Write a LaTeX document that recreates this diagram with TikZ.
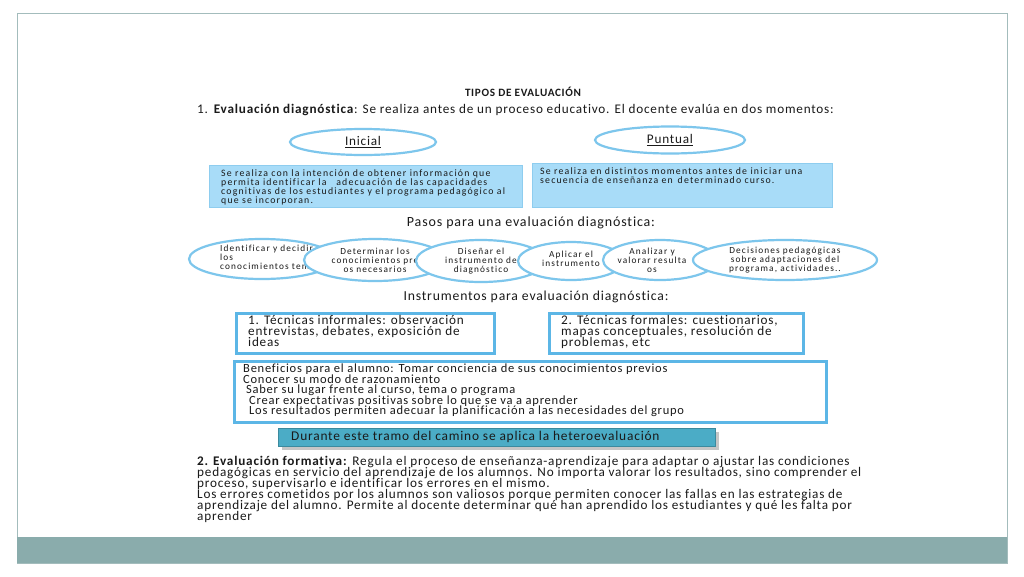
\documentclass[tikz,border=0pt]{standalone}
\usepackage{fontspec}
\setmainfont{Carlito}
\newfontfamily\fm[LetterSpace=6,Ligatures=NoCommon]{Carlito}
\newfontfamily\fsm[LetterSpace=12,Ligatures=NoCommon]{Carlito}
\usetikzlibrary{shapes.geometric}
\definecolor{framec}{HTML}{A3BCBC}
\definecolor{barc}{HTML}{8AACAC}
\definecolor{ellc}{HTML}{7DC6EC}
\definecolor{lbfill}{HTML}{A8DCF8}
\definecolor{lbdraw}{HTML}{8ECDEF}
\definecolor{thickc}{HTML}{5CB6E6}
\definecolor{dfill}{HTML}{4BACC6}
\definecolor{txtc}{HTML}{1A1A1A}
\lineskiplimit=-30pt
\lineskip=0pt
\begin{document}
\begin{tikzpicture}[x=1pt,y=-1pt,
  every node/.append style={execute at begin node={\lineskiplimit=-30pt\relax}},
  ov/.style={ellipse, draw=ellc, line width=2.2pt, fill=white, inner sep=0pt},
  lbox/.style={rectangle, draw=lbdraw, fill=lbfill, line width=0.8pt, inner sep=0pt, anchor=north west},
  tbox/.style={rectangle, draw=thickc, line width=2.6pt, fill=white, inner sep=0pt, anchor=north west},
  txtm/.style={text=txtc, inner sep=0pt, align=left, font=\fm\fontsize{13.2}{11}\selectfont},
  txts/.style={text=txtc, inner sep=0pt, align=center, font=\fsm\fontsize{9.3}{9}\selectfont}
]
\fill[white] (0,0) rectangle (1024,576);
\useasboundingbox (0,0) rectangle (1024,576);
\draw[framec, line width=1pt] (17,13) rectangle (1007,563);
\fill[barc] (17,537) rectangle (1007,563);

\node[txtm, font=\fm\fontsize{11.2}{11}\selectfont\bfseries] (title) at (523,92) {TIPOS DE EVALUACIÓN};
\node[txtm, anchor=west] (l1) at (197,110) {1. \textbf{Evaluación diagnóstica}: Se realiza antes de un proceso educativo. El docente evalúa en dos momentos:};

\node[ov, minimum width=146pt, minimum height=26pt] (ini) at (363,142) {};
\node[txtm] (tini) at (ini.center) {\underline{Inicial}};
\node[ov, minimum width=150pt, minimum height=27pt] (pun) at (670,140) {};
\node[txtm] (tpun) at (pun.center) {\underline{Puntual}};

\node[lbox, minimum width=313pt, minimum height=42pt] (b1) at (209,165) {};
\node[txts, align=left, anchor=north west, font=\fsm\fontsize{9.8}{9}\selectfont] (tb1) at (221,169) {Se realiza con la intención de obtener información que\\permita identificar la\quad adecuación de las capacidades\\cognitivas de los estudiantes y el programa pedagógico al\\que se incorporan.};
\node[lbox, minimum width=300pt, minimum height=44pt] (b2) at (532,163) {};
\node[txts, align=left, anchor=north west, font=\fsm\fontsize{9.8}{9}\selectfont] (tb2) at (540,167) {Se realiza en distintos momentos antes de iniciar una\\secuencia de enseñanza en\enspace determinado curso.};

\node[txtm, font=\fm\fontsize{14}{13}\selectfont] (pasos) at (531,223) {Pasos para una evaluación diagnóstica:};

\node[ov, minimum width=146pt, minimum height=40pt] (e1) at (262,259) {};
\node[txts, align=left, anchor=north west] (te1) at (220,245) {Identificar y decidir\\los\\conocimientos temas};
\node[ov, minimum width=142pt, minimum height=42pt] (e2) at (375,260) {};
\node[txts] (te2) at (e2.center) {Determinar los\\conocimientos pre\\os necesarios};
\node[ov, minimum width=130pt, minimum height=42pt] (e3) at (481,261) {};
\node[txts] (te3) at (e3.center) {Diseñar el\\instrumento de\\diagnóstico};
\node[ov, minimum width=106pt, minimum height=38pt] (e4) at (571,261) {};
\node[txts] (te4) at (571,259) {Aplicar el\\instrumento};
\node[ov, minimum width=114pt, minimum height=40pt] (e5) at (660,260) {};
\node[txts] (te5) at (652,260) {Analizar y\\valorar resulta\\os};
\node[ov, minimum width=184pt, minimum height=40pt] (e6) at (785,260) {};
\node[txts] (te6) at (e6.center) {Decisiones pedagógicas\\sobre adaptaciones del\\programa, actividades..};

\node[txtm, font=\fm\fontsize{13.7}{13}\selectfont] (instr) at (536,297) {Instrumentos para evaluación diagnóstica:};

\node[tbox, minimum width=258pt, minimum height=40pt] (ba) at (235,312) {};
\node[txtm, anchor=north west] (tba) at (248,315) {1. Técnicas informales: observación\\entrevistas, debates, exposición de\\ideas};
\node[tbox, minimum width=254pt, minimum height=40pt] (bb) at (548,312) {};
\node[txtm, anchor=north west] (tbb) at (561,315) {2. Técnicas formales: cuestionarios,\\mapas conceptuales, resolución de\\problemas, etc};

\node[tbox, minimum width=592pt, minimum height=61pt] (bc) at (233,360) {};
\node[txtm, anchor=north west, font=\fm\fontsize{12.5}{10.5}\selectfont] (tbc) at (243,364) {Beneficios para el alumno: Tomar conciencia de sus conocimientos previos\\Conocer su modo de razonamiento\\\hspace*{3pt}Saber su lugar frente al curso, tema o programa\\\hspace*{6pt}Crear expectativas positivas sobre lo que se va a aprender\\\hspace*{6pt}Los resultados permiten adecuar la planificación a las necesidades del grupo};

\fill[gray!45] (282,432) rectangle (719,450);
\node[rectangle, fill=dfill, draw=dfill!80!black, line width=0.4pt, inner sep=0pt, anchor=north west, minimum width=437pt, minimum height=18pt] (bd) at (278,428) {};
\node[txtm, anchor=west, font=\fm\fontsize{13.4}{12}\selectfont] (tbd) at (291,437) {Durante este tramo del camino se aplica la heteroevaluación};

\node[txtm, anchor=north west] (p2) at (197,456) {\textbf{2. Evaluación formativa:} Regula el proceso de enseñanza-aprendizaje para adaptar o ajustar las condiciones\\pedagógicas en servicio del aprendizaje de los alumnos. No importa valorar los resultados, sino comprender el\\proceso, supervisarlo e identificar los errores en el mismo.\\Los errores cometidos por los alumnos son valiosos porque permiten conocer las fallas en las estrategias de\\aprendizaje del alumno. Permite al docente determinar qué han aprendido los estudiantes y qué les falta por\\aprender};
\end{tikzpicture}
\end{document}
